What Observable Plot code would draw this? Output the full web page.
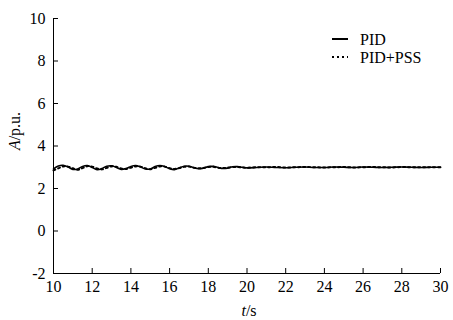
<!DOCTYPE html>
<html>
<head>
<meta charset="utf-8">
<script src="https://cdn.jsdelivr.net/npm/d3@7"></script>
<script src="https://cdn.jsdelivr.net/npm/@observablehq/plot@0.6"></script>
<style>
body { margin: 0; background: #fff; }
#chart { width: 453px; height: 320px; }
#chart svg, #chart svg text { font-family: "Liberation Serif", "Times New Roman", Times, Tinos, "DejaVu Serif", "Noto Serif", "Liberation Sans", Arial, sans-serif !important; }
</style>
</head>
<body>
<div id="chart"></div>
<script>
const seriesNames = ["PID", "PID+PSS"];
const xTicks = [10, 12, 14, 16, 18, 20, 22, 24, 26, 28, 30];
const yTicks = [-2, 0, 2, 4, 6, 8, 10];
const time = [10,10.25,10.5,10.75,11,11.25,11.5,11.75,12,12.25,12.5,12.75,13,13.25,13.5,13.75,14,14.25,14.5,14.75,15,15.25,15.5,15.75,16,16.25,16.5,16.75,17,17.25,17.5,17.75,18,18.25,18.5,18.75,19,19.25,19.5,19.75,20,20.5,21,21.5,22,22.5,23,23.5,24,24.5,25,25.5,26,26.5,27,27.5,28,28.5,29,29.5,30];
const pid = [2.92,3.06,3.09,3.01,2.9,2.92,3.04,3.08,2.99,2.89,2.94,3.05,3.07,2.99,2.9,2.94,3.04,3.08,3.01,2.92,2.92,3.03,3.08,3.03,2.93,2.89,2.97,3.05,3.05,2.98,2.93,2.96,3.03,3.04,2.99,2.94,2.96,3.02,3.03,3.0,2.97,2.99,3.01,2.99,2.98,3.0,3.01,2.99,2.99,3.01,3.0,2.99,3.01,3.0,2.99,3.0,3.01,3.0,2.99,3.0,3.0];
const pidPss = [2.85,2.95,3.04,3.03,2.95,2.88,2.96,3.05,3.03,2.94,2.9,2.97,3.04,3.02,2.94,2.92,2.98,3.04,3.03,2.95,2.91,2.97,3.04,3.03,2.96,2.92,2.96,3.02,3.03,2.98,2.95,2.97,3.01,3.02,2.98,2.96,2.98,3.01,3.01,2.99,2.98,3.0,3.0,3.01,2.99,3.0,3.01,3.0,2.99,3.0,3.01,2.99,3.0,3.01,3.0,2.99,3.01,3.0,3.0,3.0,3.0];

const rows = [];
time.forEach((t, i) => {
  rows.push({t, v: pid[i], s: seriesNames[0]});
  rows.push({t, v: pidPss[i], s: seriesNames[1]});
});

const plot = Plot.plot({
  width: 453,
  height: 320,
  marginLeft: 53,
  marginRight: 13,
  marginTop: 18,
  marginBottom: 47,
  style: {fontSize: "16px", color: "#000", background: "#fff"},
  x: {domain: [10, 30]},
  y: {domain: [-2, 10]},
  marks: [
    Plot.axisX({ticks: xTicks, tickSize: -5, tickPadding: 12, label: null, tickFormat: d => String(d), stroke: "#000", fontSize: 16}),
    Plot.axisY({ticks: yTicks, tickSize: -5, tickPadding: 13, label: null, tickFormat: d => String(d), stroke: "#000", fontSize: 16}),
    Plot.ruleX([10], {stroke: "#000", strokeWidth: 1}),
    Plot.ruleY([-2], {stroke: "#000", strokeWidth: 1}),
    Plot.line(rows.filter(d => d.s === seriesNames[1]), {x: "t", y: "v", stroke: "#000", strokeWidth: 2, strokeDasharray: "2,3", curve: "catmull-rom"}),
    Plot.line(rows.filter(d => d.s === seriesNames[0]), {x: "t", y: "v", stroke: "#000", strokeWidth: 1.6, curve: "catmull-rom"})
  ]
});
document.getElementById("chart").appendChild(plot);

const svg = d3.select(plot);
// axis titles
const yl = svg.append("text")
  .attr("transform", "translate(20,131) rotate(-90)")
  .attr("text-anchor", "middle")
  .attr("font-size", 16).attr("fill", "#000");
yl.append("tspan").attr("font-style", "italic").text("A");
yl.append("tspan").text("/p.u.");
const xl = svg.append("text")
  .attr("x", 249).attr("y", 316)
  .attr("text-anchor", "middle")
  .attr("font-size", 16).attr("fill", "#000");
xl.append("tspan").attr("font-style", "italic").text("t");
xl.append("tspan").text("/s");

// legend
const lg = svg.append("g").attr("font-size", 16).attr("fill", "#000").attr("text-anchor", "start");
const legendStyles = [{dash: null, w: 2}, {dash: "2,3", w: 2}];
seriesNames.forEach((name, i) => {
  const y = 39 + i * 18;
  lg.append("line").attr("x1", 332).attr("x2", 348).attr("y1", y).attr("y2", y)
    .attr("stroke", "#000").attr("stroke-width", legendStyles[i].w)
    .attr("stroke-dasharray", legendStyles[i].dash);
  lg.append("text").attr("x", 360).attr("y", y).attr("dy", "0.35em").text(name);
});
</script>
</body>
</html>
